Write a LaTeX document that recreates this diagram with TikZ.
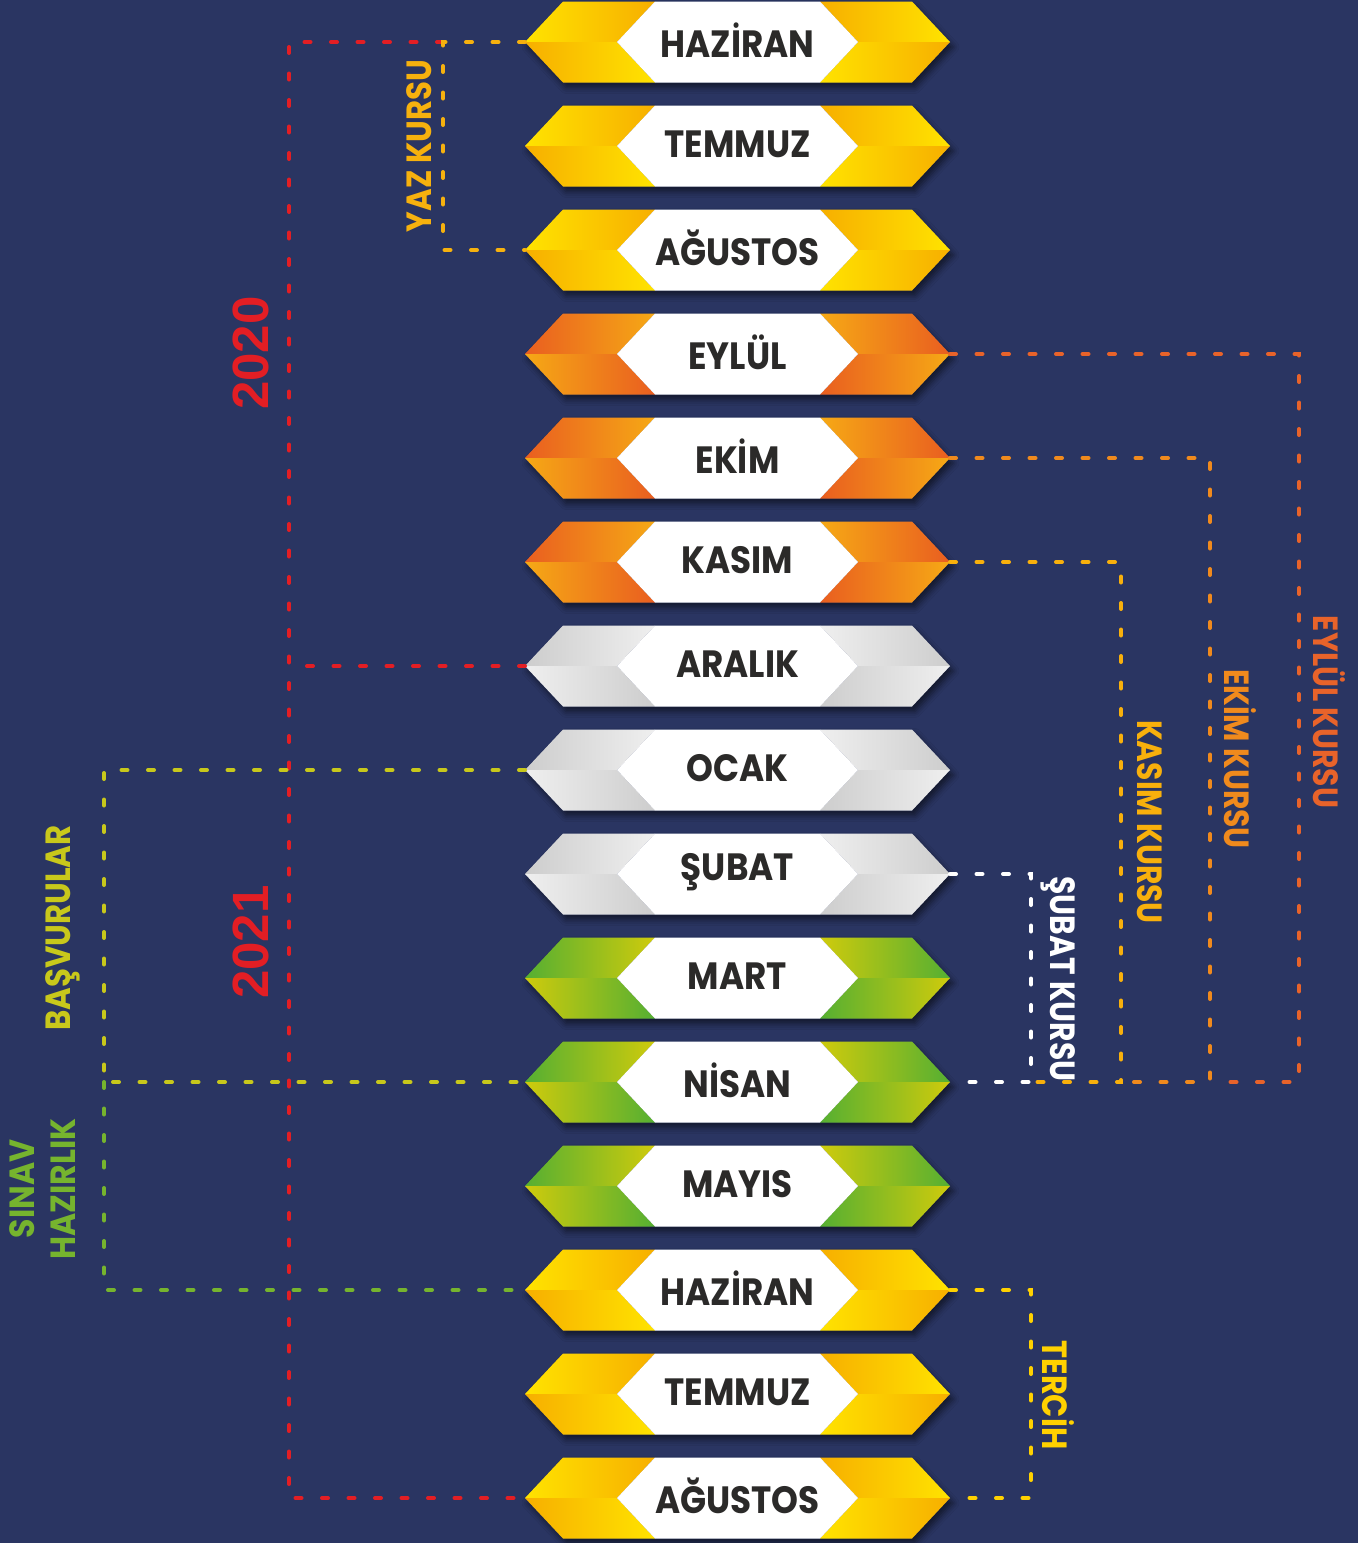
\documentclass[tikz,border=0pt]{standalone}
\usepackage{graphicx}
\usepackage{fontspec}
\setmainfont{Poppins}
\newfontfamily\numfont{Liberation Sans}
\usetikzlibrary{shadows.blur}
\definecolor{bg}{HTML}{2A3562}
\definecolor{txt}{HTML}{2B2A29}
\definecolor{yA}{HTML}{FFE300}
\definecolor{yB}{HTML}{F7AF00}
\definecolor{oA}{HTML}{E95E20}
\definecolor{oB}{HTML}{F6A915}
\definecolor{gA}{HTML}{CDCDCD}
\definecolor{gB}{HTML}{EFEFEF}
\definecolor{nA}{HTML}{55AF32}
\definecolor{nB}{HTML}{CFCB0C}
\definecolor{cred}{HTML}{E31E24}
\definecolor{cyaz}{HTML}{F6B10E}
\definecolor{ckasim}{HTML}{F8B00C}
\definecolor{cekim}{HTML}{F08A1D}
\definecolor{ceylul}{HTML}{E8632A}
\definecolor{ctercih}{HTML}{FFD100}
\definecolor{cbasv}{HTML}{C8C81B}
\definecolor{csinav}{HTML}{76B42E}
\newcommand\narrowtext[2]{\scalebox{#1}[1]{#2}}
\tikzset{
  monthnode/.style={minimum width=425pt, minimum height=81pt, inner sep=0pt, outer sep=0pt},
  monthtext/.style={text=txt, font=\fontsize{38}{40}\selectfont\bfseries},
  dline/.style={line width=4pt, line cap=round, dash pattern=on 6pt off 20.5pt},
  vlabel/.style={font=\fontsize{35}{41}\selectfont\bfseries, inner sep=0pt},
  yearlabel/.style={font=\numfont\fontsize{51}{54}\selectfont\bfseries, text=cred, inner sep=0pt, rotate=90},
}
\newcommand\hexmonth[5]{%
  % #1 name, #2 y, #3 colour A, #4 colour B, #5 text
  \node[monthnode] (#1) at (737.5,#2) {};
  \begin{scope}[shift={(#1.center)}]
    \fill[bg, blur shadow={shadow xshift=3pt, shadow yshift=-5pt, shadow opacity=55, shadow blur radius=6pt}]
      (-212.5,0) -- (-174.5,-40.5) -- (174.5,-40.5) -- (212.5,0) -- (174.5,40.5) -- (-174.5,40.5) -- cycle;
    \shade[left color=#3, right color=#4] (-212.5,0) -- (-174.5,-40.5) -- (-82.5,-40.5) -- (-120.5,0) -- cycle;
    \shade[left color=#4, right color=#3] (-212.5,0) -- (-120.5,0) -- (-82.5,40.5) -- (-174.5,40.5) -- cycle;
    \shade[left color=#4, right color=#3] (120.5,0) -- (82.5,-40.5) -- (174.5,-40.5) -- (212.5,0) -- cycle;
    \shade[left color=#3, right color=#4] (120.5,0) -- (212.5,0) -- (174.5,40.5) -- (82.5,40.5) -- cycle;
    \fill[white] (-120.5,0) -- (-82.5,-40.5) -- (82.5,-40.5) -- (120.5,0) -- (82.5,40.5) -- (-82.5,40.5) -- cycle;
    \node[monthtext] (#1t) at (0,-2) {\narrowtext{0.9}{#5}};
  \end{scope}
}
\begin{document}
\begin{tikzpicture}[x=1pt,y=-1pt]
\fill[bg] (0,0) rectangle (1358,1543);
\useasboundingbox (0,0) rectangle (1358,1543);

% corner coordinates
\coordinate (yzt) at (443,42);
\coordinate (yzb) at (443,250);
\coordinate (rt) at (289,42);
\coordinate (rb) at (289,1498);
\coordinate (rm) at (289,666);
\coordinate (bst) at (104,770);
\coordinate (bsb) at (104,1082);
\coordinate (svb) at (104,1290);
\coordinate (sbc) at (1031,1082);
\coordinate (ksc) at (1121,1082);
\coordinate (ekc) at (1210,1082);
\coordinate (eyc) at (1299,1082);
\coordinate (tcc) at (1031,1498);

% months
\hexmonth{m1}{42}{yA}{yB}{HAZİRAN}
\hexmonth{m2}{146}{yA}{yB}{TEMMUZ}
\hexmonth{m3}{250}{yA}{yB}{AĞUSTOS}
\hexmonth{m4}{354}{oA}{oB}{EYLÜL}
\hexmonth{m5}{458}{oA}{oB}{EKİM}
\hexmonth{m6}{562}{oA}{oB}{KASIM}
\hexmonth{m7}{666}{gA}{gB}{ARALIK}
\hexmonth{m8}{770}{gA}{gB}{OCAK}
\hexmonth{m9}{874}{gA}{gB}{ŞUBAT}
\hexmonth{m10}{978}{nA}{nB}{MART}
\hexmonth{m11}{1082}{nA}{nB}{NİSAN}
\hexmonth{m12}{1186}{nA}{nB}{MAYIS}
\hexmonth{m13}{1290}{yA}{yB}{HAZİRAN}
\hexmonth{m14}{1394}{yA}{yB}{TEMMUZ}
\hexmonth{m15}{1498}{yA}{yB}{AĞUSTOS}

% left connectors
\draw[dline, cred] (yzt) -- (rt) -- (rb) -- (m15.west);
\draw[dline, cred] (m7.west) -- (rm);
\draw[dline, cyaz] (m1.west) -- (yzt) -- (yzb) -- (m3.west);
\draw[dline, cbasv] (m8.west) -- (bst) -- (bsb) -- (m11.west);
\draw[dline, csinav] (bsb) -- (svb) -- (m13.west);

% right connectors
\draw[dline, white] (m9.east) -| (sbc) -- (m11.east);
\draw[dline, ckasim] (m6.east) -| (ksc) -- (sbc);
\draw[dline, cekim] (m5.east) -| (ekc) -- (ksc);
\draw[dline, ceylul] (m4.east) -| (eyc) -- (ekc);
\draw[dline, ctercih] (m13.east) -| (tcc) -- (m15.east);

% labels
\node[yearlabel] (y2020) at (251,353) {2020};
\node[yearlabel] (y2021) at (251,942) {2021};
\node[vlabel, text=cyaz, rotate=90] (lyaz) at (419,146) {\narrowtext{0.88}{YAZ KURSU}};
\node[vlabel, text=cbasv, rotate=90] (lbasv) at (63,928) {\narrowtext{0.88}{BAŞVURULAR}};
\node[vlabel, text=csinav, rotate=90, align=center] (lsinav) at (43,1189) {\narrowtext{0.9}{SINAV}\\\narrowtext{0.9}{HAZIRLIK}};
\node[vlabel, text=white, rotate=-90] (lsubat) at (1058,979) {\narrowtext{0.85}{ŞUBAT KURSU}};
\node[vlabel, text=ckasim, rotate=-90] (lkasim) at (1150,822) {\narrowtext{0.85}{KASIM KURSU}};
\node[vlabel, text=cekim, rotate=-90] (lekim) at (1240,759) {\narrowtext{0.85}{EKİM KURSU}};
\node[vlabel, text=ceylul, rotate=-90] (leylul) at (1329,712) {\narrowtext{0.85}{EYLÜL KURSU}};
\node[vlabel, text=ctercih, rotate=-90] (ltercih) at (1058,1395) {\narrowtext{0.87}{TERCİH}};
\end{tikzpicture}
\end{document}
